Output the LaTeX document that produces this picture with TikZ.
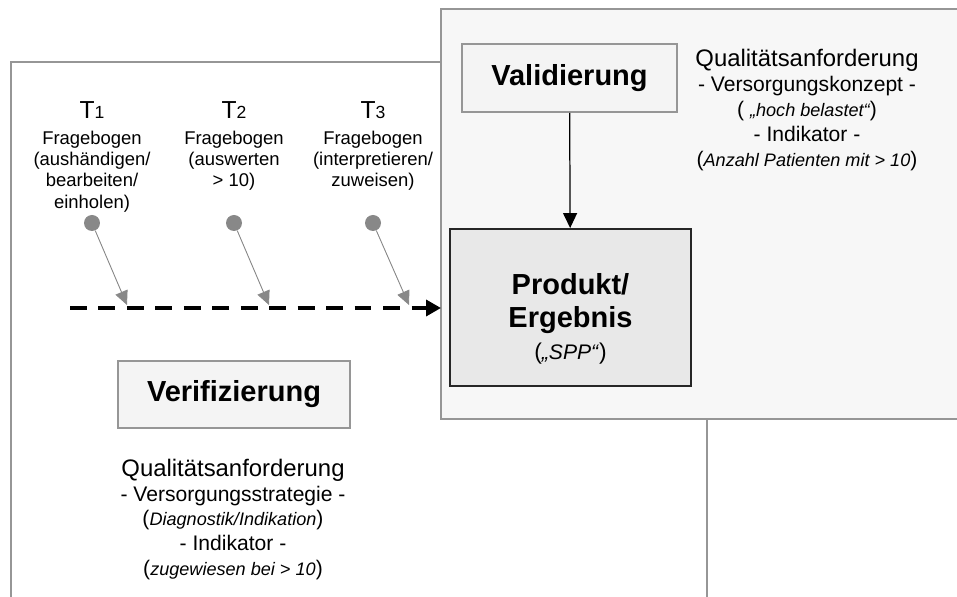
\documentclass[tikz,border=0pt]{standalone}
\usepackage{fontspec}
\setmainfont{Liberation Sans}
\usetikzlibrary{arrows.meta, positioning}
\definecolor{rahmen}{RGB}{150,150,150}
\definecolor{punktgrau}{RGB}{136,136,136}
\definecolor{flaeche}{RGB}{247,247,247}
\definecolor{kasten}{RGB}{244,244,244}
\definecolor{produktgrau}{RGB}{232,232,232}
\newcommand*{\kursiv}[1]{{\fontsize{10.3}{14.2}\selectfont\itshape #1}}
\newcommand*{\titel}[1]{{\fontsize{13.6}{14.2}\selectfont #1}}
\tikzstyle{block} = [rectangle, line width=1.1pt, inner sep=0pt, align=center]
\tikzstyle{phase} = [draw=rahmen, block, fill=kasten, font=\fontsize{16.5}{19}\selectfont\bfseries]
\tikzstyle{result} = [draw=black!85, block, fill=produktgrau, minimum width=4.82cm, minimum height=3.14cm, font=\fontsize{16.5}{18.7}\selectfont\bfseries]
\tikzstyle{anforderung} = [align=center, inner sep=0pt, font=\fontsize{12}{14.2}\selectfont]
\tikzstyle{schritt} = [align=center, inner sep=0pt, font=\fontsize{10.5}{12.2}\selectfont]
\tikzstyle{punkt} = [circle, fill=punktgrau, minimum size=0.32cm, inner sep=0pt]
\tikzstyle{pfeil} = [-{Triangle[length=0.28cm, width=0.26cm]}, draw=punktgrau, fill=punktgrau, line width=0.5pt]
\tikzstyle{ablauf} = [-{Triangle[length=0.3cm, width=0.32cm]}, line width=2pt, dash pattern=on 9.6pt off 6.6pt]
\tikzstyle{verbindung} = [-{Triangle[length=0.3cm, width=0.28cm]}, line width=0.7pt]

\begin{document}
\begin{tikzpicture}[x=0.02cm, y=-0.02cm]
    \useasboundingbox (0,0) rectangle (957,597);

    % Frames.
    \draw [rahmen, line width=1.1pt] (11,600) -- (11,62) -- (707,62) -- (707,600);
    \fill [flaeche] (441,9) rectangle (960,419);
    \draw [rahmen, line width=1.1pt] (960,9) -- (441,9) -- (441,419) -- (960,419);

    % Blocks.
    \node (vali) [phase, minimum width=4.3cm, minimum height=1.36cm] at (569.5,78) {Validierung};
    \node (veri) [phase, minimum width=4.64cm, minimum height=1.34cm] at (234,394.5) {Verifizierung};
    \node (prod) [result] at (570.5,307.5) {\rule{0pt}{25pt}Produkt/\\Ergebnis\\{\normalfont\fontsize{13}{14}\selectfont(\textit{\fontsize{12}{14}\selectfont„SPP“})}};

    % Requirements.
    \node (anfVal) [anforderung] at (807,110) {\titel{Qualitätsanforderung}\\- Versorgungskonzept -\\( \kursiv{„hoch belastet“})\\- Indikator -\\(\kursiv{Anzahl Patienten mit > 10})};
    \node (anfVer) [anforderung] at (233,519.5) {\titel{Qualitätsanforderung}\\- Versorgungsstrategie -\\(\kursiv{Diagnostik/Indikation})\\- Indikator -\\(\kursiv{zugewiesen bei > 10})};

    % Time points.
    \foreach \i/\x/\tip/\txt in {1/92/127/{Fragebogen\\(aushändigen/\\bearbeiten/\\einholen)},
                                 2/234/269/{Fragebogen\\(auswerten\\> 10)},
                                 3/373/409/{Fragebogen\\(interpretieren/\\zuweisen)}} {
        \node (zeit\i) [inner sep=0pt] at (\x,110) {{\fontsize{14}{16}\selectfont T}{\fontsize{10}{12}\selectfont\i}};
        \node (frage\i) [schritt, below=0.23cm of zeit\i] {\txt};
        \node (punkt\i) [punkt] at (\x,223) {};
        \coordinate (spitze\i) at (\tip,305);
        \draw [pfeil] (punkt\i) -- (spitze\i);
    }

    % Arrows.
    \coordinate (start) at (70,308);
    \coordinate (ziel) at (441,308);
    \draw [ablauf] (start) -- (ziel);
    \draw [verbindung] (vali) -- (prod);
\end{tikzpicture}
\end{document}
